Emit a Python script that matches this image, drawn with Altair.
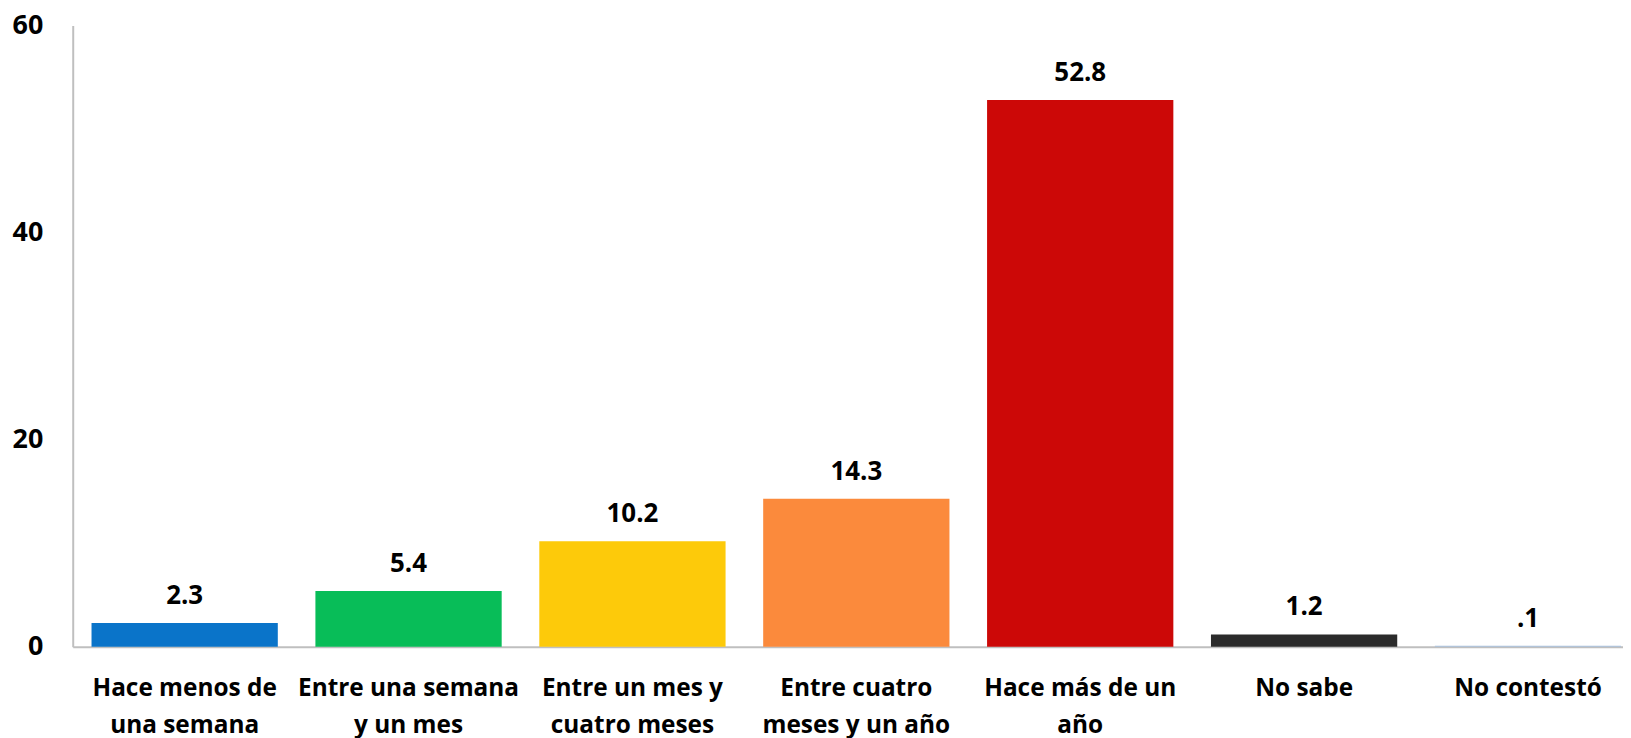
import altair as alt
import pandas as pd

categories = [
    "Hace menos de|una semana",
    "Entre una semana|y un mes",
    "Entre un mes y|cuatro meses",
    "Entre cuatro|meses y un año",
    "Hace más de un|año",
    "No sabe",
    "No contestó",
]
values = [2.3, 5.4, 10.2, 14.3, 52.8, 1.2, 0.1]
value_labels = ["2.3", "5.4", "10.2", "14.3", "52.8", "1.2", ".1"]
colors = ["#0a74c9", "#08bd58", "#fdca0a", "#fb8a3c", "#cc0807", "#2b2b2b", "#a8c0dc"]
y_ticks = [0, 20, 40, 60]

df = pd.DataFrame({"cat": categories, "val": values, "lab": value_labels, "col": colors})

FONT = "Open Sans"

x = alt.X(
    "cat:N",
    sort=categories,
    title=None,
    scale=alt.Scale(paddingInner=0.168, paddingOuter=0.084, range=[0, 1574]),
    axis=alt.Axis(
        labelExpr="split(datum.label, '|')",
        labelAngle=0,
        labelFont=FONT,
        labelFontSize=24.5,
        labelFontWeight="bold",
        labelColor="#000000",
        labelLineHeight=37,
        labelPadding=30,
        labelBaseline="top",
        ticks=False,
        domainColor="#bfbfbf",
        domainWidth=2,
        labelLimit=400,
    ),
)

y = alt.Y(
    "val:Q",
    title=None,
    scale=alt.Scale(domain=[0, 60], nice=False),
    axis=alt.Axis(
        values=y_ticks,
        grid=False,
        ticks=False,
        labelFont=FONT,
        labelFontSize=27,
        labelFontWeight="bold",
        labelColor="#000000",
        labelPadding=30,
        domainColor="#bfbfbf",
        domainWidth=2,
    ),
)

bars = alt.Chart(df).mark_bar().encode(
    x=x,
    y=y,
    color=alt.Color("col:N", scale=None, legend=None),
)

text = alt.Chart(df).mark_text(
    font=FONT, fontSize=26, fontWeight="bold", color="#000000",
    baseline="alphabetic", dy=-19,
).encode(
    x=alt.X("cat:N", sort=categories),
    y="val:Q",
    text="lab:N",
)

chart = (bars + text).properties(
    width=1557,
    height=624,
    autosize=alt.AutoSizeParams(type="none"),
    padding={"left": 65, "top": 16, "right": 0, "bottom": 90},
).configure_view(stroke=None)

chart.save("out.html", embed_options={"renderer": "svg", "actions": False})
